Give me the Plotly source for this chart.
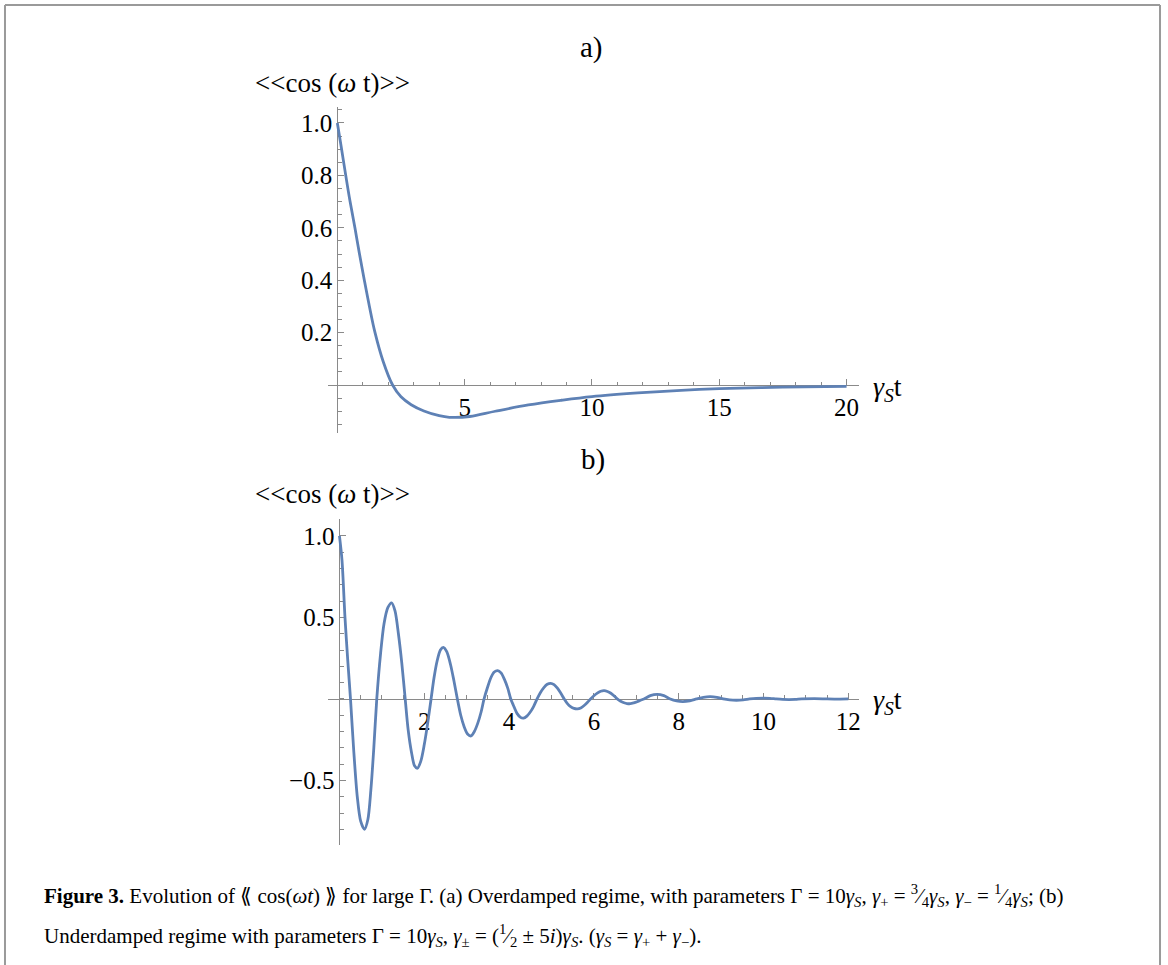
import plotly.graph_objects as go

W, H = 1168, 965

# ---------------- data ----------------
# panel a) overdamped
ta = [0, 0.15, 0.33, 0.5, 0.69, 0.87, 1.06, 1.26, 1.48, 1.8, 2.17, 2.5, 2.9,
      3.4, 4.0, 4.4, 5.2, 6.2, 7.5, 8.8, 10.0, 11.8, 13.5, 15.0, 17.5, 20.0]
ya = [1.0, 0.91, 0.80, 0.70, 0.60, 0.50, 0.40, 0.30, 0.20, 0.09, 0.0, -0.045, -0.075,
      -0.099, -0.117, -0.123, -0.12, -0.10, -0.076, -0.058, -0.044, -0.030,
      -0.020, -0.014, -0.008, -0.005]

# panel b) underdamped
tb = [0.00, 0.06, 0.13, 0.20, 0.26, 0.34, 0.42, 0.50, 0.59, 0.67, 0.74, 0.81, 0.88,
      0.97, 1.05, 1.14, 1.23, 1.31, 1.39, 1.47, 1.55, 1.62, 1.70, 1.77, 1.84, 1.92,
      2.00, 2.08, 2.16, 2.23, 2.30, 2.38, 2.45, 2.53, 2.62, 2.70, 2.78, 2.86, 2.94,
      3.02, 3.10, 3.18, 3.26, 3.34, 3.41, 3.49, 3.57, 3.65, 3.73, 3.81, 3.89, 3.97,
      4.04, 4.12, 4.19, 4.27, 4.34, 4.42, 4.50, 4.58, 4.66, 4.74, 4.82, 4.90, 4.98,
      5.06, 5.14, 5.22, 5.30, 5.38, 5.45, 5.53, 5.61, 5.69, 5.77, 5.85, 5.92, 6.00,
      6.08, 6.16, 6.24, 6.32, 6.40, 6.48, 6.55, 6.63, 6.71, 6.78, 6.86, 6.94, 7.02,
      7.10, 7.18, 7.33, 7.49, 7.65, 7.80, 7.95, 8.10, 8.26, 8.42, 8.58, 8.74, 8.90,
      9.05, 9.20, 9.36, 9.52, 9.67, 9.83, 10.0, 10.15, 10.3, 10.45, 10.6, 10.75,
      10.9, 11.2, 11.5, 11.8, 12.0]
yb = [1.00, 0.85, 0.50, 0.22, 0.00, -0.33, -0.60, -0.75, -0.80, -0.74, -0.56, -0.30, 0.00,
      0.28, 0.46, 0.56, 0.59, 0.54, 0.40, 0.22, 0.00, -0.19, -0.33, -0.41, -0.425, -0.38,
      -0.28, -0.15, 0.00, 0.13, 0.23, 0.30, 0.317, 0.29, 0.21, 0.11, 0.00, -0.10, -0.17,
      -0.215, -0.227, -0.20, -0.15, -0.08, 0.00, 0.07, 0.13, 0.165, 0.174, 0.16, 0.12, 0.065,
      0.00, -0.05, -0.09, -0.113, -0.118, -0.105, -0.08, -0.045, 0.00, 0.04, 0.07, 0.09, 0.096,
      0.088, 0.066, 0.035, 0.00, -0.03, -0.047, -0.058, -0.061, -0.055, -0.04, -0.02, 0.00, 0.02,
      0.036, 0.047, 0.051, 0.046, 0.035, 0.018, 0.00, -0.014, -0.023, -0.028, -0.029, -0.024, -0.017,
      -0.008, 0.00, 0.02, 0.028, 0.02, 0.00, -0.012, -0.016, -0.011, 0.00, 0.01, 0.014, 0.01,
      0.00, -0.006, -0.008, -0.006, 0.00, 0.004, 0.005, 0.004, 0.00, -0.003, -0.004, -0.003,
      0.00, 0.002, 0.00, -0.001, 0.0]

xticks_a = [5, 10, 15, 20]
yticks_a = [0.2, 0.4, 0.6, 0.8, 1.0]
yticklabels_a = ["0.2", "0.4", "0.6", "0.8", "1.0"]
xticks_b = [2, 4, 6, 8, 10, 12]
yticks_b = [-0.5, 0.5, 1.0]
yticklabels_b = ["\u22120.5", "0.5", "1.0"]

# ---------------- layout geometry (pixels) ----------------
xr_a = [-0.35, 20.47]
yr_a = [-0.183, 1.061]
xr_b = [-0.26, 12.24]
yr_b = [-0.896, 1.104]

xdom = [329 / W, 860 / W]
ydom_a = [1 - 433 / H, 1 - 107 / H]
ydom_b = [1 - 845 / H, 1 - 519 / H]


def zero_pos(rng, dom):
    return dom[0] + (0 - rng[0]) / (rng[1] - rng[0]) * (dom[1] - dom[0])


SERIF = "Liberation Serif"
AX = "#8a8a8a"
LINE = "#5E81B5"

fig = go.Figure()
fig.add_trace(go.Scatter(x=ta, y=ya, mode="lines", line=dict(color=LINE, width=2.8, shape="spline", smoothing=1.0),
                         xaxis="x", yaxis="y", showlegend=False, hoverinfo="skip"))
fig.add_trace(go.Scatter(x=tb, y=yb, mode="lines", line=dict(color=LINE, width=2.8, shape="spline", smoothing=0.8),
                         xaxis="x2", yaxis="y2", showlegend=False, hoverinfo="skip"))

tickfont = dict(family=SERIF, size=25, color="black")


def xaxis(rng, ydom, yrng, tickv, minor_dt):
    return dict(domain=xdom, range=rng, anchor="free", position=zero_pos(yrng, ydom),
                showline=True, linecolor=AX, linewidth=1, ticks="inside", ticklen=6,
                tickcolor=AX, tickwidth=1, tickvals=tickv, ticktext=[str(v) for v in tickv],
                minor=dict(dtick=minor_dt, tick0=0, ticks="inside", ticklen=3.5, tickcolor=AX, showgrid=False),
                showgrid=False, zeroline=False, tickfont=tickfont, fixedrange=True,
                layer="below traces")


def yaxis(rng, ydom, xrng, tickv, tickt, minor_dt):
    return dict(domain=ydom, range=rng, anchor="free", position=zero_pos(xrng, xdom),
                showline=True, linecolor=AX, linewidth=1, ticks="inside", ticklen=6,
                tickcolor=AX, tickwidth=1, tickvals=tickv, ticktext=tickt,
                minor=dict(dtick=minor_dt, tick0=0, ticks="inside", ticklen=3.5, tickcolor=AX, showgrid=False),
                showgrid=False, zeroline=False, tickfont=tickfont, fixedrange=True,
                layer="below traces")


fig.update_layout(
    width=W, height=H,
    margin=dict(l=0, r=0, t=0, b=0),
    paper_bgcolor="white", plot_bgcolor="white",
    xaxis=xaxis(xr_a, ydom_a, yr_a, xticks_a, 1),
    yaxis=yaxis(yr_a, ydom_a, xr_a, yticks_a, yticklabels_a, 0.05),
    xaxis2=xaxis(xr_b, ydom_b, yr_b, xticks_b, 0.5),
    yaxis2=yaxis(yr_b, ydom_b, xr_b, yticks_b, yticklabels_b, 0.1),
)


def px_ann(text, x, y, size, xanchor="center", yanchor="middle", family=SERIF):
    fig.add_annotation(text=text, x=x / W, y=1 - y / H, xref="paper", yref="paper",
                       xanchor=xanchor, yanchor=yanchor, showarrow=False,
                       font=dict(family=family, size=size, color="black"))


px_ann("a)", 593, 48, 29)
px_ann("b)", 594, 460, 29)
px_ann("&lt;&lt;cos (<i>\u03c9</i> t)&gt;&gt;", 253, 83, 27, xanchor="left")
px_ann("&lt;&lt;cos (<i>\u03c9</i> t)&gt;&gt;", 253, 494, 27, xanchor="left")
px_ann("<i>\u03b3<sub>S</sub></i>t", 872, 388, 28, xanchor="left")
px_ann("<i>\u03b3<sub>S</sub></i>t", 872, 701, 28, xanchor="left")

EQ = "\u00a0=\u00a0"
PM = "\u00a0\u00b1\u00a0"
PL = "\u00a0+\u00a0"
gS = "<i>\u03b3</i><sub><i>S</i></sub>"
cap1 = ("<b>Figure 3.</b> Evolution of \u27ea cos(<i>\u03c9t</i>) \u27eb for large \u0393. "
        "(a) Overdamped regime, with parameters \u0393" + EQ + "10" + gS + ", "
        "<i>\u03b3</i><sub>+</sub>" + EQ + "<sup>3</sup>\u2044<sub>4</sub>" + gS + ", "
        "<i>\u03b3</i><sub>\u2212</sub>" + EQ + "<sup>1</sup>\u2044<sub>4</sub>" + gS + "; (b)")
cap2 = ("Underdamped regime with parameters \u0393" + EQ + "10" + gS + ", "
        "<i>\u03b3</i><sub>\u00b1</sub>" + EQ + "(<sup>1</sup>\u2044<sub>2</sub>" + PM + "5<i>i</i>)" + gS + ". "
        "(" + gS + EQ + "<i>\u03b3</i><sub>+</sub>" + PL + "<i>\u03b3</i><sub>\u2212</sub>).")
px_ann(cap1, 42, 895, 21, xanchor="left")
px_ann(cap2, 42, 935, 21, xanchor="left")

# frame around the figure (top, left, right)
for (x0, y0, x1, y1) in [(5, 5, 1162, 5), (5, 5, 5, H + 5), (1162, 5, 1162, H + 5)]:
    fig.add_shape(type="line", xref="paper", yref="paper",
                  x0=x0 / W, y0=1 - y0 / H, x1=x1 / W, y1=1 - y1 / H,
                  line=dict(color="#9a9a9a", width=2))

fig.write_html("out.html", config={"displayModeBar": False},
               post_script="document.body.style.margin='0';document.body.style.overflow='hidden';")
